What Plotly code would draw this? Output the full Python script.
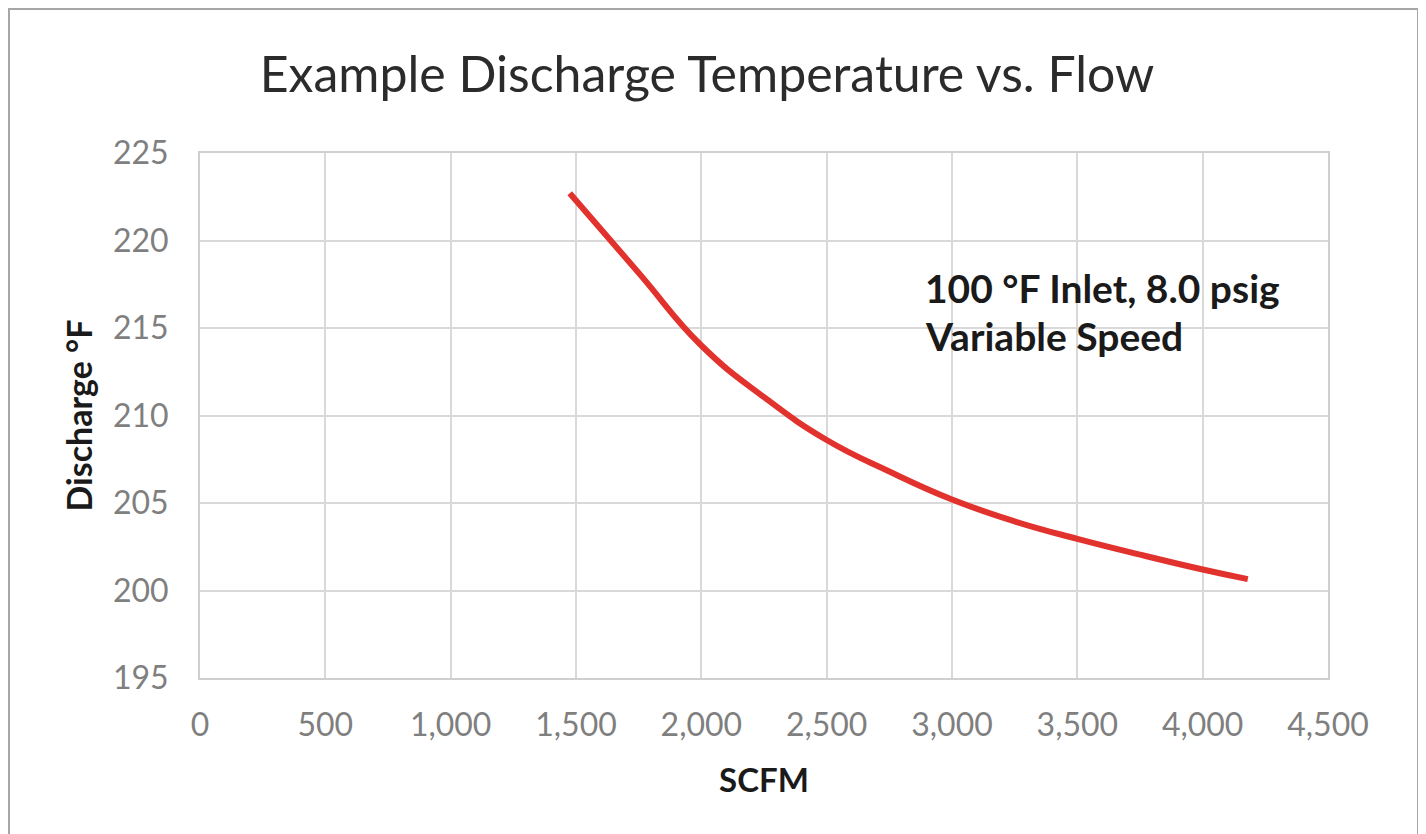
import plotly.graph_objects as go

# Data
flow_scfm = [1475, 1750, 2000, 2250, 2500, 2750, 3000, 3250, 3500, 3750, 4000, 4180]
discharge_f = [222.7, 218.15, 214.0, 211.05, 208.6, 206.8, 205.2, 203.95, 202.95, 202.05, 201.2, 200.65]

x_ticks = [0, 500, 1000, 1500, 2000, 2500, 3000, 3500, 4000, 4500]
y_ticks = [195, 200, 205, 210, 215, 220, 225]

title_text = "Example Discharge Temperature vs. Flow"
note_line1 = "100 °F Inlet, 8.0 psig"
note_line2 = "Variable Speed"

FONT = "Lato"
GRID = "#D9D9D9"
TICK_COLOR = "#7F7F7F"

fig = go.Figure()
fig.add_trace(go.Scatter(
    x=flow_scfm, y=discharge_f, mode="lines",
    line=dict(color="#E2322D", width=6, shape="spline", smoothing=1.3),
    showlegend=False, hoverinfo="x+y",
))

# The page body adds an 8 px offset, so the figure is laid out 8 px up/left.
W, H = 1418, 826
ml, mr, mt, mb = 192, 98, 145, 156
pw, ph = W - ml - mr, H - mt - mb

def px_x(p):
    return (p - ml) / pw

def px_y(p):
    return (H - mb - p) / ph

fig.update_layout(
    width=W, height=H,
    margin=dict(l=ml, r=mr, t=mt, b=mb),
    paper_bgcolor="white", plot_bgcolor="white",
    title=dict(text=title_text, x=699 / W, xanchor="center", y=1 - 66 / H, yanchor="middle",
               font=dict(family=FONT, size=50, color="#2b2b2b")),
    xaxis=dict(
        range=[0, 4500], tickvals=x_ticks, tickformat=",d",
        showgrid=True, gridcolor=GRID, gridwidth=2,
        showline=True, linecolor="#CFCFCF", linewidth=2, mirror=True,
        zeroline=False, ticks="", ticklabelstandoff=18, automargin=False,
        tickfont=dict(family=FONT, size=32, color=TICK_COLOR),
        title=dict(text="<b>SCFM</b>", standoff=26,
                   font=dict(family=FONT, size=33, color="#1a1a1a")),
    ),
    yaxis=dict(
        range=[195, 225], tickvals=y_ticks,
        showgrid=True, gridcolor=GRID, gridwidth=2,
        showline=True, linecolor="#CFCFCF", linewidth=2, mirror=True,
        zeroline=False, ticks="", ticklabelstandoff=23, automargin=False,
        tickfont=dict(family=FONT, size=32, color=TICK_COLOR),
        title=dict(text="<b>Discharge °F</b>", standoff=10,
                   font=dict(family=FONT, size=34, color="#1a1a1a")),
    ),
    annotations=[
        dict(text="<b>" + note_line1 + "</b>", xref="paper", yref="paper",
             x=px_x(915), y=px_y(280), xanchor="left", yanchor="middle", showarrow=False,
             font=dict(family=FONT, size=39, color="#1a1a1a")),
        dict(text="<b>" + note_line2 + "</b>", xref="paper", yref="paper",
             x=px_x(915), y=px_y(328), xanchor="left", yanchor="middle", showarrow=False,
             font=dict(family=FONT, size=39, color="#1a1a1a")),
    ],
    shapes=[
        dict(type="path", xref="paper", yref="paper",
             path=f"M {px_x(1)},{px_y(840)} L {px_x(1)},{px_y(1)} L {px_x(1410)},{px_y(1)} L {px_x(1410)},{px_y(840)}",
             line=dict(color="#A6A6A6", width=2), layer="above"),
    ],
)

fig.write_html("out.html")
